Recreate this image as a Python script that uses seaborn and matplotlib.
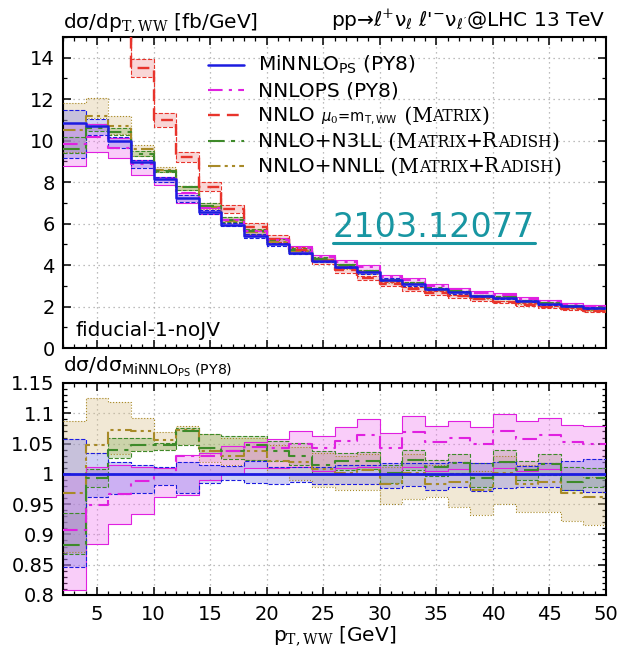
import numpy as np
import pandas as pd
import seaborn as sns
import matplotlib
matplotlib.use("Agg")
import matplotlib.pyplot as plt
from matplotlib.ticker import MultipleLocator, FuncFormatter
from matplotlib.offsetbox import TextArea, HPacker, AnchoredOffsetbox, DrawingArea
from matplotlib.lines import Line2D

# ---------------- data ----------------
bin_edges = [2, 4, 6, 8, 10, 12, 14, 16, 18, 20, 22, 24, 26,
             28, 30, 32, 34, 36, 38, 40, 42, 44, 46, 48, 50]

# MiNNLO_PS (PY8) differential cross section [fb/GeV]
minnlo = [10.85, 10.7, 10.0, 8.95, 8.15, 7.25, 6.55, 5.95, 5.38, 5.0, 4.6, 4.22,
          3.92, 3.65, 3.3, 3.07, 2.85, 2.68, 2.53, 2.4, 2.25, 2.14, 2.03, 1.93]

# NNLO fixed order (MATRIX) [fb/GeV] (first bins above the frame)
nnlo = [19.0, 18.0, 17.0, 13.5, 11.0, 9.2, 7.78, 6.72, 5.85, 5.28, 4.75, 4.18,
        3.74, 3.38, 3.08, 2.86, 2.66, 2.5, 2.35, 2.22, 2.09, 1.98, 1.88, 1.78]
nnlo_hi = [19.7, 18.7, 17.7, 13.95, 11.35, 9.45, 8.0, 6.92, 6.02, 5.43, 4.88, 4.3,
           3.86, 3.49, 3.18, 2.95, 2.75, 2.58, 2.42, 2.29, 2.16, 2.04, 1.94, 1.84]
nnlo_lo = [18.3, 17.3, 16.3, 13.05, 10.65, 8.95, 7.55, 6.52, 5.68, 5.12, 4.6, 4.05,
           3.62, 3.27, 2.98, 2.76, 2.57, 2.41, 2.27, 2.15, 2.02, 1.91, 1.81, 1.72]

# ratios to MiNNLO_PS central
minnlo_r_lo = [0.846, 0.962, 0.966, 0.968, 0.982, 0.968, 0.985, 0.99, 0.985, 0.984, 0.987, 0.984,
               0.984, 0.983, 0.976, 0.98, 0.974, 0.978, 0.972, 0.976, 0.978, 0.978, 0.974, 0.97]
minnlo_r_hi = [1.058, 1.034, 1.02, 1.014, 1.011, 1.019, 1.015, 1.013, 1.021, 1.012, 1.012, 1.011,
               1.015, 1.015, 1.018, 1.018, 1.018, 1.019, 1.018, 1.02, 1.013, 1.018, 1.022, 1.024]

nnlops_r = [0.907, 0.949, 0.966, 0.989, 1.0, 1.03, 1.03, 1.037, 1.045, 1.043, 1.05, 1.042,
            1.054, 1.064, 1.043, 1.069, 1.052, 1.059, 1.049, 1.07, 1.057, 1.064, 1.052, 1.049]
nnlops_r_hi = [1.0, 1.011, 1.014, 1.012, 1.01, 1.031, 1.034, 1.046, 1.052, 1.057, 1.07, 1.063,
               1.077, 1.091, 1.068, 1.096, 1.079, 1.088, 1.078, 1.099, 1.087, 1.093, 1.081, 1.079]
nnlops_r_lo = [0.808, 0.885, 0.918, 0.934, 0.962, 0.965, 0.99, 1.0, 1.01, 1.01, 1.012, 1.005,
               1.01, 1.012, 1.0, 1.012, 1.005, 1.008, 1.0, 1.01, 1.005, 1.008, 1.0, 1.0]

n3ll_r = [0.883, 0.993, 1.04, 1.047, 1.047, 1.071, 1.043, 1.037, 1.048, 1.037, 1.03, 1.015,
          1.021, 1.022, 1.001, 1.023, 1.012, 1.018, 0.993, 1.019, 1.007, 1.017, 0.987, 0.993]
n3ll_r_hi = [0.936, 1.008, 1.059, 1.059, 1.051, 1.076, 1.065, 1.062, 1.063, 1.055, 1.051, 1.037,
             1.034, 1.036, 1.015, 1.04, 1.023, 1.032, 1.018, 1.04, 1.021, 1.032, 1.012, 1.009]
n3ll_r_lo = [0.868, 0.979, 1.026, 1.037, 1.04, 1.048, 1.034, 1.025, 1.023, 1.022, 1.015, 1.0,
             1.006, 1.008, 0.985, 1.006, 0.996, 1.002, 0.978, 1.0, 0.99, 0.998, 0.973, 0.978]

nnll_r = [0.968, 1.048, 1.073, 1.071, 1.056, 1.073, 1.038, 1.03, 1.037, 1.022, 1.019, 1.008,
          1.002, 1.006, 0.984, 1.001, 0.984, 0.987, 0.973, 1.002, 0.984, 0.986, 0.969, 0.962]
nnll_r_hi = [1.088, 1.126, 1.118, 1.092, 1.069, 1.079, 1.065, 1.06, 1.06, 1.048, 1.045, 1.035,
             1.03, 1.032, 1.012, 1.032, 1.015, 1.02, 1.005, 1.03, 1.015, 1.018, 1.0, 0.995]
nnll_r_lo = [0.871, 1.035, 1.032, 1.037, 1.04, 1.048, 1.02, 1.015, 1.023, 1.0, 0.99, 0.979,
             0.973, 0.973, 0.951, 0.959, 0.962, 0.946, 0.932, 0.95, 0.937, 0.937, 0.922, 0.915]

y_ticks_top = [0, 2, 4, 6, 8, 10, 12, 14]
y_ticks_ratio = [0.8, 0.85, 0.9, 0.95, 1.0, 1.05, 1.1, 1.15]
x_ticks = [5, 10, 15, 20, 25, 30, 35, 40, 45, 50]

# ---------------- style ----------------
sns.set_theme(style="ticks")
plt.rcParams["font.family"] = ["DejaVu Sans"]
plt.rcParams["text.color"] = "black"
plt.rcParams["axes.labelcolor"] = "black"
plt.rcParams["xtick.color"] = "black"
plt.rcParams["ytick.color"] = "black"
plt.rcParams["mathtext.fontset"] = "custom"
plt.rcParams["mathtext.rm"] = "DejaVu Serif"
plt.rcParams["mathtext.sf"] = "DejaVu Sans"
plt.rcParams["mathtext.it"] = "DejaVu Sans:italic"
plt.rcParams["mathtext.bf"] = "DejaVu Sans:bold"

C_BLUE, F_BLUE = "#1c1ce0", "#7a7ae8"
C_MAG, F_MAG = "#e020e0", "#f070f0"
C_RED, F_RED = "#e8342c", "#f08a8a"
C_GRN, F_GRN = "#3e8a2a", "#86ad5a"
C_TAN, F_TAN = "#a88a28", "#d8bf88"

LS_BLUE = "-"
LS_MAG = (0, (7, 3, 1.5, 3))
LS_RED = (0, (5, 3))
LS_GRN = (0, (8, 3, 2, 3))
LS_TAN = (0, (6, 2, 1.5, 2, 1.5, 2))

W, H = 619, 652
fig = plt.figure(figsize=(W / 100, H / 100), dpi=100)
ax_top = fig.add_axes([63 / W, 1 - 348 / H, (606 - 63) / W, (348 - 37) / H])
ax_rat = fig.add_axes([63 / W, 1 - 595 / H, (606 - 63) / W, (595 - 383) / H])


def ext(v):
    return list(v) + [v[-1]]


def step_line(ax, vals, color, ls, lw, z):
    df = pd.DataFrame({"pT": bin_edges, "v": ext(vals)})
    sns.lineplot(data=df, x="pT", y="v", ax=ax, color=color, linestyle=ls, lw=lw,
                 drawstyle="steps-post", legend=False, errorbar=None, zorder=z)


def band(ax, lo, hi, fill, alpha, edge_color, edge_ls, central, central_ls, central_lw):
    ax.fill_between(bin_edges, ext(lo), ext(hi), step="post", color=fill,
                    alpha=alpha, lw=0, zorder=2)
    step_line(ax, lo, edge_color, edge_ls, 0.8, 3)
    step_line(ax, hi, edge_color, edge_ls, 0.8, 3)
    step_line(ax, central, edge_color, central_ls, central_lw, 4)


def mul(a, b):
    return [x * y for x, y in zip(a, b)]


# ---------------- top panel ----------------
band(ax_top, mul(minnlo, nnll_r_lo), mul(minnlo, nnll_r_hi), F_TAN, 0.35, C_TAN, ":",
     mul(minnlo, nnll_r), LS_TAN, 1.5)
band(ax_top, mul(minnlo, n3ll_r_lo), mul(minnlo, n3ll_r_hi), F_GRN, 0.35, C_GRN, "--",
     mul(minnlo, n3ll_r), LS_GRN, 1.5)
band(ax_top, nnlo_lo, nnlo_hi, F_RED, 0.35, C_RED, "--", nnlo, LS_RED, 1.7)
band(ax_top, mul(minnlo, nnlops_r_lo), mul(minnlo, nnlops_r_hi), F_MAG, 0.35, C_MAG, "-",
     mul(minnlo, nnlops_r), LS_MAG, 1.5)
band(ax_top, mul(minnlo, minnlo_r_lo), mul(minnlo, minnlo_r_hi), F_BLUE, 0.35, C_BLUE, "--",
     minnlo, LS_BLUE, 1.8)

# ---------------- ratio panel ----------------
ones = [1.0] * len(minnlo)
band(ax_rat, nnll_r_lo, nnll_r_hi, F_TAN, 0.35, C_TAN, ":", nnll_r, LS_TAN, 1.5)
band(ax_rat, n3ll_r_lo, n3ll_r_hi, F_GRN, 0.35, C_GRN, "--", n3ll_r, LS_GRN, 1.5)
band(ax_rat, nnlops_r_lo, nnlops_r_hi, F_MAG, 0.35, C_MAG, "-", nnlops_r, LS_MAG, 1.5)
band(ax_rat, minnlo_r_lo, minnlo_r_hi, F_BLUE, 0.35, C_BLUE, "--", ones, LS_BLUE, 2.0)

# ---------------- axes cosmetics ----------------
for ax in (ax_top, ax_rat):
    ax.set_xlim(2, 50)
    ax.set_xticks(x_ticks)
    ax.xaxis.set_minor_locator(MultipleLocator(1))
    ax.set_xlabel("")
    ax.set_ylabel("")
    ax.set_axisbelow(True)
    ax.grid(True, which="major", ls=(0, (1, 3)), color="#a8a8a8", lw=0.9)
    ax.tick_params(which="both", direction="in", top=True, right=True,
                   bottom=True, left=True, colors="black", labelsize=14)
    ax.tick_params(which="major", length=6, width=1.1)
    ax.tick_params(which="minor", length=3, width=0.9)
    ax.tick_params(axis="y", pad=6)
    ax.tick_params(axis="x", pad=7)
    for s in ax.spines.values():
        s.set_visible(True)
        s.set_linewidth(1.5)
        s.set_color("black")
    ax.set_facecolor("white")

ax_top.set_ylim(0, 15)
ax_top.set_yticks(y_ticks_top)
ax_top.yaxis.set_minor_locator(MultipleLocator(1))
ax_top.tick_params(axis="x", labelbottom=False)

ax_rat.set_ylim(0.8, 1.15)
ax_rat.set_yticks(y_ticks_ratio)
ax_rat.yaxis.set_minor_locator(MultipleLocator(0.01))
ax_rat.yaxis.set_major_formatter(FuncFormatter(lambda v, p: f"{v:g}"))

# ---------------- texts ----------------
FS = 14.5
fig.text(63 / W, 1 - 27 / H, "dσ/dp$_{\\mathrm{T,WW}}$ [fb/GeV]",
         fontsize=FS, ha="left", va="baseline", color="black")
fig.text(606 / W, 1 - 27 / H,
         "pp→ℓ$^{+}$ν$_{\\ell}$ ℓ'$^{-}$ν$_{\\ell'}$@LHC 13 TeV",
         fontsize=FS, ha="right", va="baseline", color="black")
fig.text(75 / W, 1 - 336 / H, "fiducial-1-noJV", fontsize=FS, ha="left",
         va="baseline", color="black")
fig.text(63 / W, 1 - 371 / H,
         "dσ/dσ$_{\\mathsf{MiNNLO}_{\\mathsf{PS}}\\ \\mathsf{(PY8)}}$",
         fontsize=FS, ha="left", va="baseline", color="black")
fig.text(335 / W, 1 - 640 / H, "p$_{\\mathrm{T,WW}}$ [GeV]",
         fontsize=FS, ha="center", va="baseline", color="black")

link = fig.text(333 / W, 1 - 237 / H, "2103.12077", fontsize=24,
                color="#1896a2", ha="left", va="baseline")
fig.canvas.draw()
bb = link.get_window_extent()
fig.add_artist(Line2D([bb.x0 / W, bb.x1 / W], [1 - 243 / H, 1 - 243 / H],
                      transform=fig.transFigure, color="#1896a2", lw=2.2))

# ---------------- legend (manual, with small caps) ----------------
SANS, SERIF = "DejaVu Sans", "DejaVu Serif"
BIG, SMALL = 14.5, 11.2
matrix = [(" (M", BIG, SERIF), ("ATRIX", SMALL, SERIF)]
radish = [("+R", BIG, SERIF), ("ADISH", SMALL, SERIF)]
rows = [
    (65, C_BLUE, LS_BLUE, 1.8, [("MiNNLO$_{\\mathsf{PS}}$ (PY8)", BIG, SANS)]),
    (90, C_MAG, LS_MAG, 1.5, [("NNLOPS (PY8)", BIG, SANS)]),
    (116, C_RED, LS_RED, 1.7, [("NNLO ", BIG, SANS),
                               ("$\\mu_0$=m$_{\\mathsf{T,WW}}$", 10.5, SANS)]
     + matrix + [(")", BIG, SERIF)]),
    (141, C_GRN, LS_GRN, 1.5, [("NNLO+N3LL", BIG, SANS)] + matrix + radish
     + [(")", BIG, SERIF)]),
    (166, C_TAN, LS_TAN, 1.5, [("NNLO+NNLL", BIG, SANS)] + matrix + radish
     + [(")", BIG, SERIF)]),
]
for y_px, col, ls, lw, pieces in rows:
    da = DrawingArea(36, 12, 0, 0)
    da.add_artist(Line2D([0, 26], [4.5, 4.5], color=col, ls=ls, lw=lw))
    tas = [TextArea(s, textprops=dict(fontsize=fs, family=fam, color="black"))
           for s, fs, fam in pieces]
    box = HPacker(children=[da] + tas, align="baseline", pad=0, sep=0)
    anc = AnchoredOffsetbox(loc="center left", child=box, pad=0, borderpad=0,
                            frameon=False, bbox_to_anchor=(208 / W, 1 - y_px / H),
                            bbox_transform=fig.transFigure)
    ax_top.add_artist(anc)

fig.savefig("out.png", dpi=100, facecolor="white")
